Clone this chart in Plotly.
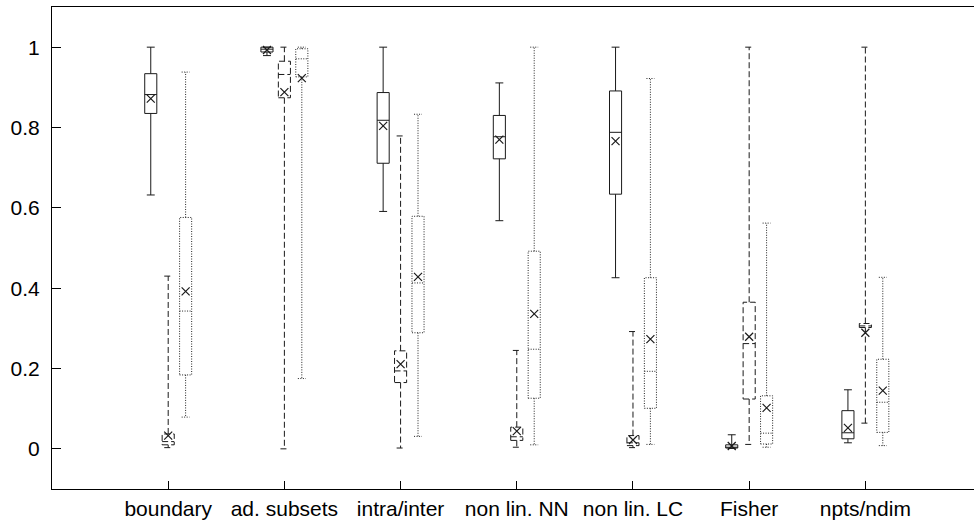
import plotly.graph_objects as go

categories = ["boundary", "ad. subsets", "intra/inter", "non lin. NN",
              "non lin. LC", "Fisher", "npts/ndim"]

# series 1 (solid boxes)
s1_min = [0.632, 0.979, 0.591, 0.568, 0.426, 0.001, 0.015]
s1_q1 = [0.835, 0.988, 0.711, 0.722, 0.634, 0.002, 0.025]
s1_med = [0.882, 0.995, 0.818, 0.777, 0.788, 0.004, 0.040]
s1_q3 = [0.934, 1.000, 0.887, 0.830, 0.891, 0.010, 0.095]
s1_max = [1.000, 1.000, 1.000, 0.911, 1.000, 0.035, 0.147]
s1_mean = [0.872, 0.993, 0.804, 0.770, 0.766, 0.007, 0.052]

# series 2 (dashed boxes)
s2_min = [0.003, 0.000, 0.002, 0.004, 0.003, 0.011, 0.064]
s2_q1 = [0.010, 0.874, 0.165, 0.021, 0.008, 0.124, 0.302]
s2_med = [0.018, 0.932, 0.194, 0.030, 0.015, 0.262, 0.306]
s2_q3 = [0.037, 0.965, 0.244, 0.054, 0.033, 0.365, 0.312]
s2_max = [0.430, 1.000, 0.779, 0.245, 0.292, 1.000, 1.000]
s2_mean = [0.033, 0.888, 0.211, 0.044, 0.022, 0.279, 0.289]

# series 3 (dotted boxes)
s3_min = [0.079, 0.175, 0.031, 0.010, 0.011, 0.004, 0.008]
s3_q1 = [0.184, 0.926, 0.289, 0.126, 0.101, 0.012, 0.041]
s3_med = [0.343, 0.971, 0.413, 0.248, 0.193, 0.039, 0.116]
s3_q3 = [0.576, 0.996, 0.579, 0.492, 0.426, 0.132, 0.223]
s3_max = [0.938, 1.000, 0.833, 1.000, 0.922, 0.562, 0.427]
s3_mean = [0.392, 0.923, 0.428, 0.336, 0.273, 0.102, 0.145]

y_tickvals = [0, 0.2, 0.4, 0.6, 0.8, 1]
y_ticktext = ["0", "0.2", "0.4", "0.6", "0.8", "1"]

series = [
    dict(mn=s1_min, q1=s1_q1, md=s1_med, q3=s1_q3, mx=s1_max, mean=s1_mean,
         offset=-0.15, dash="solid", color="#1a1a1a"),
    dict(mn=s2_min, q1=s2_q1, md=s2_med, q3=s2_q3, mx=s2_max, mean=s2_mean,
         offset=0.0, dash="6px,3px", color="#1a1a1a"),
    dict(mn=s3_min, q1=s3_q1, md=s3_med, q3=s3_q3, mx=s3_max, mean=s3_mean,
         offset=0.15, dash="1px,1.5px", color="#222222"),
]

BOX_HALF = 0.052
CAP_HALF = 0.034

fig = go.Figure()
for s in series:
    xs, ys = [], []
    mx_x, mx_y = [], []
    for i in range(len(categories)):
        c = i + 1 + s["offset"]
        q1, md, q3, lo, hi = s["q1"][i], s["md"][i], s["q3"][i], s["mn"][i], s["mx"][i]
        # box
        xs += [c - BOX_HALF, c + BOX_HALF, c + BOX_HALF, c - BOX_HALF, c - BOX_HALF, None]
        ys += [q1, q1, q3, q3, q1, None]
        # median
        xs += [c - BOX_HALF, c + BOX_HALF, None]
        ys += [md, md, None]
        # whiskers
        xs += [c, c, None, c, c, None]
        ys += [q3, hi, None, q1, lo, None]
        # caps
        xs += [c - CAP_HALF, c + CAP_HALF, None, c - CAP_HALF, c + CAP_HALF, None]
        ys += [hi, hi, None, lo, lo, None]
        mx_x.append(c)
        mx_y.append(s["mean"][i])
    fig.add_trace(go.Scatter(x=xs, y=ys, mode="lines", connectgaps=False,
                             line=dict(color=s["color"], width=1, dash=s["dash"]),
                             hoverinfo="skip", showlegend=False))
    fig.add_trace(go.Scatter(x=mx_x, y=mx_y, mode="markers",
                             marker=dict(symbol="x-thin", size=8,
                                         line=dict(color="#1a1a1a", width=1.2)),
                             showlegend=False))

fig.update_layout(
    width=974, height=520,
    margin=dict(l=52, r=0, t=7, b=31),
    paper_bgcolor="white", plot_bgcolor="white",
    font=dict(family="Liberation Sans, Arial, Helvetica, sans-serif", size=21, color="black"),
    showlegend=False,
)
fig.update_xaxes(
    range=[0, 7.935],
    tickmode="array", tickvals=list(range(1, len(categories) + 1)), ticktext=categories,
    ticks="inside", ticklen=8, tickcolor="black", tickwidth=1,
    showline=True, linecolor="black", linewidth=1, mirror=True,
    showgrid=False, zeroline=False, ticklabelstandoff=1,
)
fig.update_yaxes(
    range=[-0.1, 1.1],
    tickmode="array", tickvals=y_tickvals, ticktext=y_ticktext,
    ticks="inside", ticklen=9, tickcolor="black", tickwidth=1,
    showline=True, linecolor="black", linewidth=1, mirror=False,
    showgrid=False, zeroline=False, ticklabelstandoff=7,
)

fig.write_html("out.html")
